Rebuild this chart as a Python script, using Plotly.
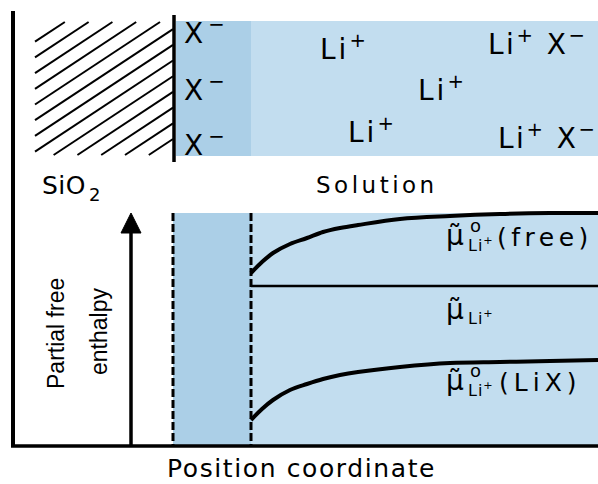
import plotly.graph_objects as go

# ---------------- data (schematic coordinates: x = position, y = enthalpy level, screen-like) ----
FRAME_X = [13, 13]
FRAME_Y = [11, 446]
BASE_X = [11, 598]
BASE_Y = [446, 446]

SURFACE_X = 174          # SiO2 / solution interface
LAYER_X = 251            # end of adsorbed X- layer
RIGHT_X = 598
TOP_PANEL_Y = [21, 156]
BOTTOM_PANEL_Y = [213, 446]
SURFACE_LINE_Y = [15, 162]

POSITION = [251, 262, 273, 290, 307, 323, 340, 358, 400, 450, 500, 550, 598]
MU0_FREE = [273, 262, 253, 244, 238, 232, 228, 225, 219, 216, 214, 213, 213]
MU0_LIX = [420, 409, 400, 390, 384, 379, 375, 372, 367, 363, 362, 361, 360]
MU_LEVEL = 286

ARROW_X = 131
ARROW_Y = [446, 228]
ARROW_HEAD_X = [121, 141, 131, 121]
ARROW_HEAD_Y = [233, 233, 213, 233]

HATCH_BOX = [35, 173, 22, 155]
HATCH_SLOPE = 0.66
HATCH_LEFT_Y = [41.7, 57.4, 73.1, 88.8, 104.5, 120.2, 135.9, 151.6,
                167.3, 183.0, 198.7, 214.4, 230.1]

DARK_BLUE = "#abcfe7"
LIGHT_BLUE = "#c2ddef"

fig = go.Figure()

# regions
for x0, x1, (y0, y1), col in [
    (176, LAYER_X, TOP_PANEL_Y, DARK_BLUE),
    (LAYER_X, RIGHT_X, TOP_PANEL_Y, LIGHT_BLUE),
    (173, LAYER_X, BOTTOM_PANEL_Y, DARK_BLUE),
    (LAYER_X, RIGHT_X, BOTTOM_PANEL_Y, LIGHT_BLUE),
]:
    fig.add_shape(type="rect", xref="x", yref="y", x0=x0, x1=x1, y0=y0, y1=y1,
                  fillcolor=col, line_width=0, layer="below")

# hatch lines
hx, hy = [], []
bx0, bx1, by0, by1 = HATCH_BOX
for c in HATCH_LEFT_Y:
    xa = bx0 if c <= by1 else bx0 + (c - by1) / HATCH_SLOPE
    xb = min(bx1, bx0 + (c - by0) / HATCH_SLOPE)
    if xb <= xa:
        continue
    hx += [xa, xb, None]
    hy += [c - HATCH_SLOPE * (xa - bx0), c - HATCH_SLOPE * (xb - bx0), None]
fig.add_trace(go.Scatter(x=hx, y=hy, mode="lines", line=dict(color="black", width=2)))

def line(x, y, w, dash=None, shape="linear"):
    fig.add_trace(go.Scatter(x=x, y=y, mode="lines",
                             line=dict(color="black", width=w, dash=dash, shape=shape)))

line(FRAME_X, FRAME_Y, 4)
line(BASE_X, BASE_Y, 3.5)
line([SURFACE_X, SURFACE_X], SURFACE_LINE_Y, 3.5)
line([173, 173], BOTTOM_PANEL_Y, 3, dash="8px,3px")
line([LAYER_X, LAYER_X], BOTTOM_PANEL_Y, 3, dash="8px,3px")
line([LAYER_X, RIGHT_X], [MU_LEVEL, MU_LEVEL], 2.5)
line(POSITION, MU0_FREE, 4, shape="spline")
line(POSITION, MU0_LIX, 4, shape="spline")
line([ARROW_X, ARROW_X], ARROW_Y, 3.5)
fig.add_trace(go.Scatter(x=ARROW_HEAD_X, y=ARROW_HEAD_Y, mode="lines", fill="toself",
                         fillcolor="black", line=dict(color="black", width=1)))

# ---------------- text ----------------
DV = "DejaVu Sans"
LS = "Liberation Sans"
DESC = {DV: 0.236, LS: 0.212}

def label(text, x, baseline, size, spacing=0, family=DV):
    if spacing:
        text = f'<span style="letter-spacing:{spacing}px">{text}</span>'
    fig.add_annotation(x=x, y=baseline + DESC[family] * size, xref="x", yref="y",
                       text=text, showarrow=False, xanchor="left", yanchor="bottom",
                       borderpad=0, borderwidth=0,
                       font=dict(family=family, size=size, color="black"))

for b in [43, 100, 155]:
    label("X<sup>−</sup>", 184, b, 28, 5)
for x, b in [(320, 59), (418, 100), (348, 142)]:
    label("Li<sup>+</sup>", x, b, 28, 3)
for x, b in [(488, 54), (498, 148)]:
    label("Li<sup>+</sup> X<sup>−</sup>", x, b, 28, 2.5)

label("SiO", 42, 194, 25, 0.5)
label("2", 89, 201, 18)
label("Solution", 316, 193, 23, 3.5)
label("Position coordinate", 167, 477, 25, 1.6)

# mu labels
for b, sup, sub_b, tail in [(245, 232, 251, "(free)"), (319, None, 324, None),
                             (390, 377, 396, "(LiX)")]:
    label("\u03bc\u0303", 446, b, 28)
    if sup is not None:
        label("o", 470, sup, 18)
    label("Li<sup>+</sup>", 468, sub_b, 16, 1)
    if tail:
        label(tail, 497 if tail == "(free)" else 499, b + 1, 25,
              4.5 if tail == "(free)" else 5)

for txt, x, y in [("Partial free", 56, 334), ("enthalpy", 99, 332)]:
    fig.add_annotation(x=x, y=y, xref="x", yref="y", text=txt, textangle=-90,
                       showarrow=False, xanchor="center", yanchor="middle",
                       borderpad=0, borderwidth=0,
                       font=dict(family=LS, size=23, color="black"))

fig.update_layout(
    width=598, height=484, autosize=False,
    margin=dict(l=0, r=0, t=0, b=0),
    paper_bgcolor="white", plot_bgcolor="white",
    showlegend=False,
    xaxis=dict(range=[0, 598], visible=False, fixedrange=True),
    yaxis=dict(range=[484, 0], visible=False, fixedrange=True),
)

fig.write_html("out.html", config={"displayModeBar": False})
